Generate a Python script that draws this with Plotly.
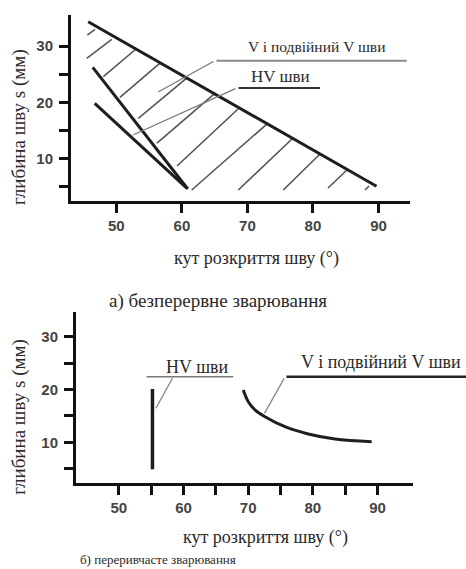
import plotly.graph_objects as go

# ---------------- data ----------------
# a) continuous welding
v_upper_x = [45.7, 89.7]
v_upper_y = [34.3, 5.1]
hv_a1_x = [46.4, 60.9]
hv_a1_y = [26.2, 4.6]
hv_a2_x = [46.7, 60.7]
hv_a2_y = [19.8, 4.8]
# hatch segments: x0, y0, x1, y1
hatch_x0 = [45.57, 45.48, 48.01, 50.55, 53.35, 56.2, 59.26, 61.5, 68.61, 75.48, 82.3, 87.95]
hatch_y0 = [31.95, 27.82, 24.55, 20.89, 17.16, 12.77, 8.69, 4.42, 4.42, 4.42, 4.78, 4.42]
hatch_x1 = [46.74, 49.29, 53.0, 56.66, 60.78, 64.9, 68.57, 73.14, 76.96, 81.08, 85.35, 88.56]
hatch_y1 = [32.97, 31.19, 29.47, 26.98, 24.32, 21.47, 18.81, 16.32, 13.66, 10.82, 8.15, 5.13]

# b) intermittent welding
hv_b_x = [55.2, 55.2]
hv_b_y = [4.9, 20.1]
v_b_x = [69.24, 70.02, 71.05, 72.6, 75.69, 79.29, 83.42, 89.09]
v_b_y = [19.91, 17.69, 16.12, 14.85, 12.95, 11.57, 10.63, 10.11]

x_ticks_a = [50, 60, 70, 80, 90]
x_ticks_b = [50, 55, 60, 65, 70, 75, 80, 85, 90]
y_ticks = [5, 10, 15, 20, 25, 30]
x_ticktext_a = ["50", "60", "70", "80", "90"]
x_ticktext_b = ["50", "", "60", "", "70", "", "80", "", "90"]
y_ticktext = ["", "10", "", "20", "", "30"]

label_v = "V і подвійний V шви"
label_hv = "HV шви"
x_title = "кут розкриття шву (°)"
y_title = "глибина шву s (мм)"
cap_a = "а) безперервне зварювання"
cap_b = "б) переривчасте зварювання"

# ---------------- figure ----------------
W, H = 466, 569
DARK = "#1e1e1e"
fig = go.Figure()

def line(x, y, xa, ya, width=3, color=DARK, shape="linear"):
    fig.add_trace(go.Scatter(x=x, y=y, xaxis=xa, yaxis=ya, mode="lines",
                             line=dict(color=color, width=width, shape=shape),
                             showlegend=False, hoverinfo="skip"))

# hatch as one trace
hx, hy = [], []
for a, b, c, d in zip(hatch_x0, hatch_y0, hatch_x1, hatch_y1):
    hx += [a, c, None]
    hy += [b, d, None]
line(hx, hy, "x", "y", width=1.6, color="#555555")
line(v_upper_x, v_upper_y, "x", "y", width=3)
line(hv_a1_x, hv_a1_y, "x", "y", width=3)
line(hv_a2_x, hv_a2_y, "x", "y", width=3)

line(hv_b_x, hv_b_y, "x2", "y2", width=3.5)
line(v_b_x, v_b_y, "x2", "y2", width=3, shape="spline")

SERIF = "Liberation Serif"
TXT = "#2a2a2a"

def seg(xr, yr, x0, y0, x1, y1, color="#777", width=1.3):
    fig.add_annotation(x=x1, y=y1, ax=x0, ay=y0, xref=xr, yref=yr, axref=xr, ayref=yr,
                       text="", showarrow=True, arrowhead=0, arrowwidth=width,
                       arrowcolor=color, standoff=0, startstandoff=0)

def label(xr, yr, x, y, text, size):
    fig.add_annotation(x=x, y=y, xref=xr, yref=yr, text=text, showarrow=False,
                       xanchor="center", yanchor="middle",
                       font=dict(family=SERIF, size=size, color=TXT))

# a) leaders and labels
seg("x", "y", 65.05, 27.39, 94.31, 27.39, color="#8a8a8a", width=2)
seg("x", "y", 65.05, 27.39, 56.36, 21.83, color="#7a7a7a", width=1.3)
seg("x", "y", 68.41, 22.54, 81.08, 22.54, color="#333", width=2.2)
seg("x", "y", 68.41, 22.54, 52.54, 14.19, color="#7a7a7a", width=1.3)
label("x", "y", 80.57, 29.9, label_v, 15.5)
label("x", "y", 75.1, 24.5, label_hv, 17)

# b) leaders and labels
seg("x2", "y2", 54.05, 22.43, 67.7, 22.43, color="#777", width=1.5)
seg("x2", "y2", 58.42, 22.43, 55.74, 16.44, color="#888", width=1.3)
seg("x2", "y2", 75.69, 22.40, 103.7, 22.40, color="#222", width=2.5)
seg("x2", "y2", 75.69, 22.40, 72.52, 15.49, color="#888", width=1.3)
label("x2", "y2", 62.24, 24.3, label_hv, 18)
label("x2", "y2", 90.6, 25.15, label_v, 18)

# titles (paper coords)
def ptext(x, y, text, size, angle=0):
    fig.add_annotation(x=x / W, y=1 - y / H, xref="paper", yref="paper", text=text,
                       showarrow=False, textangle=angle, xanchor="center", yanchor="middle",
                       font=dict(family=SERIF, size=size, color=TXT))

ptext(256.7, 259, x_title, 18)
ptext(218, 301, cap_a, 19)
ptext(19, 127, y_title, 19, -90)
ptext(265, 537, x_title, 18)
ptext(157.5, 559, cap_b, 13)
ptext(18.3, 416.5, y_title, 19, -90)

axis_common = dict(showline=True, linewidth=3, linecolor="#111", ticks="outside",
                   ticklen=9, tickwidth=3, tickcolor="#111", showgrid=False,
                   zeroline=False, tickfont=dict(family="Liberation Sans", size=15,
                                                 color="#444", weight="bold"),
                   fixedrange=True)

fig.update_layout(
    width=W, height=H, margin=dict(l=0, r=0, t=0, b=0),
    paper_bgcolor="white", plot_bgcolor="white",
    xaxis=dict(domain=[71 / W, 410 / W], range=[43.08, 94.81], anchor="y",
               tickmode="array", tickvals=x_ticks_a, ticktext=x_ticktext_a,
               ticklabelstandoff=0, **axis_common),
    yaxis=dict(domain=[1 - 201 / H, 1 - 15 / H], range=[2.47, 35.51], anchor="x",
               tickmode="array", tickvals=y_ticks, ticktext=y_ticktext,
               ticklabelstandoff=3, **axis_common),
    xaxis2=dict(domain=[76 / W, 413.3 / W], range=[43.38, 95.53], anchor="y2",
                tickmode="array", tickvals=x_ticks_b, ticktext=x_ticktext_b,
                ticklabelstandoff=0, **axis_common),
    yaxis2=dict(domain=[1 - 482.7 / H, 1 - 311.7 / H], range=[2.35, 34.73], anchor="x2",
                tickmode="array", tickvals=y_ticks, ticktext=y_ticktext,
                ticklabelstandoff=3, **axis_common),
)

fig.write_html("out.html", config={"displayModeBar": False},
               post_script="document.body.style.margin='0';document.body.style.overflow='hidden';")
